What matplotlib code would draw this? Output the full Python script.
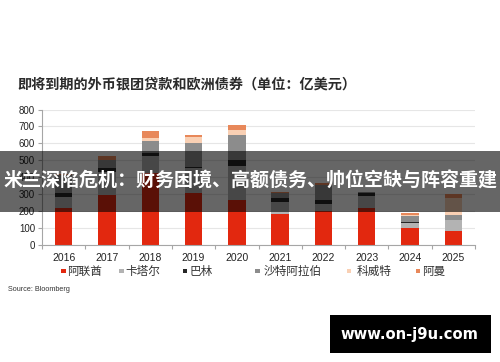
import matplotlib
matplotlib.use('Agg')
import matplotlib.pyplot as plt
from matplotlib.patches import Rectangle
import numpy as np

years = ['2016', '2017', '2018', '2019', '2020', '2021', '2022', '2023', '2024', '2025']
uae = [220, 294, 422, 305, 264, 183, 197, 220, 97, 83]
qatar = [65, 134, 105, 150, 203, 68, 42, 70, 33, 63]
bahrain = [20, 24, 14, 5, 34, 24, 25, 15, 6, 0]
saudi = [105, 49, 71, 140, 148, 30, 89, 8, 34, 30]
kuwait = [0, 0, 18, 36, 29, 0, 0, 0, 6, 102]
oman = [10, 24, 42, 13, 30, 5, 14, 0, 12, 20]

series_names = ['阿联酋', '卡塔尔', '巴林', '沙特阿拉伯', '科威特', '阿曼']
series = [uae, qatar, bahrain, saudi, kuwait, oman]
colors = ['#e2280f', '#b3b3b3', '#262626', '#8c8c8c', '#f9d0b4', '#e8885a']

title = '即将到期的外币银团贷款和欧洲债券（单位：亿美元）'
banner = '米兰深陷危机：财务困境、高额债务、帅位空缺与阵容重建'
source = 'Source: Bloomberg'
watermark = 'www.on-j9u.com'

CJK = ['Noto Sans CJK SC', 'DejaVu Sans']
W, H = 500, 362

fig = plt.figure(figsize=(5, 3.62), dpi=100)
ax = fig.add_axes([42 / W, 1 - 244.7 / H, (475 - 42) / W, (244.7 - 109.5) / H])

x = np.arange(len(years))
bottom = np.zeros(len(years))
for vals, c in zip(series, colors):
    ax.bar(x, vals, 0.4, bottom=bottom, color=c, zorder=2, linewidth=0)
    bottom += np.array(vals)

ax.set_xlim(-0.5, 9.5)
ax.set_ylim(0, 800)
ax.set_yticks(range(0, 801, 100))
ax.yaxis.grid(True, color='#e6e6e6', lw=0.8, zorder=0)
for s in ['top', 'right']:
    ax.spines[s].set_visible(False)
for s in ['left', 'bottom']:
    ax.spines[s].set_color('#a6a6a6')
    ax.spines[s].set_linewidth(0.8)

ax.set_xticks(x)
ax.set_xticklabels(years, fontfamily=['Liberation Sans Narrow', 'Liberation Sans'], fontsize=7.5, color='#222222')
ax.set_xticks(np.arange(-0.5, 10, 1), minor=True)
ax.tick_params(axis='x', which='major', length=0, pad=6)
ax.tick_params(axis='x', which='minor', length=3, color='#a6a6a6', width=0.8)
ax.tick_params(axis='y', length=3, color='#a6a6a6', width=0.8, pad=2, labelsize=7, labelcolor='#222222')
for lab in ax.get_yticklabels():
    lab.set_fontfamily('Liberation Sans')

# title
fig.text(17 / W, 1 - 84.5 / H, title, fontsize=10.2, fontweight='bold', family=CJK,
         color='#2b2b2b', ha='left', va='center')

# legend (manual)
mk_x = [61, 119.3, 182.7, 255, 346.7, 415.7]
tx_x = [66.7, 125, 189.3, 263.3, 356.7, 421.7]
ly = 271
for name, c, mx, tx in zip(series_names, colors, mk_x, tx_x):
    fig.patches.append(Rectangle((mx / W, 1 - (ly + 2.3) / H), 4.6 / W, 4.6 / H,
                                 transform=fig.transFigure, facecolor=c, edgecolor='none'))
    fig.text(tx / W, 1 - ly / H, name, fontsize=8.4, family=CJK, color='#333333',
             ha='left', va='center')

# source
fig.text(7.5 / W, 1 - 289.5 / H, source, fontsize=5.2, family=['Liberation Sans'],
         color='#333333', ha='left', va='center')

# banner overlay
fig.patches.append(Rectangle((0, 1 - 212 / H), 1, 61 / H, transform=fig.transFigure,
                             facecolor='black', alpha=0.6, edgecolor='none', zorder=10))
fig.text(0.5, 1 - 181.5 / H, banner, fontsize=13.7, fontweight='bold', family=CJK,
         color='white', ha='center', va='center', zorder=11)

# watermark
fig.patches.append(Rectangle((330 / W, 1 - 352.7 / H), 161 / W, 37.7 / H,
                             transform=fig.transFigure, facecolor='black', edgecolor='none', zorder=10))
fig.text(409.5 / W, 1 - 335 / H, watermark, fontsize=10.6, fontweight='bold',
         family=['DejaVu Sans'], color='white', ha='center', va='center', zorder=11)

fig.savefig('out.png', dpi=100)
